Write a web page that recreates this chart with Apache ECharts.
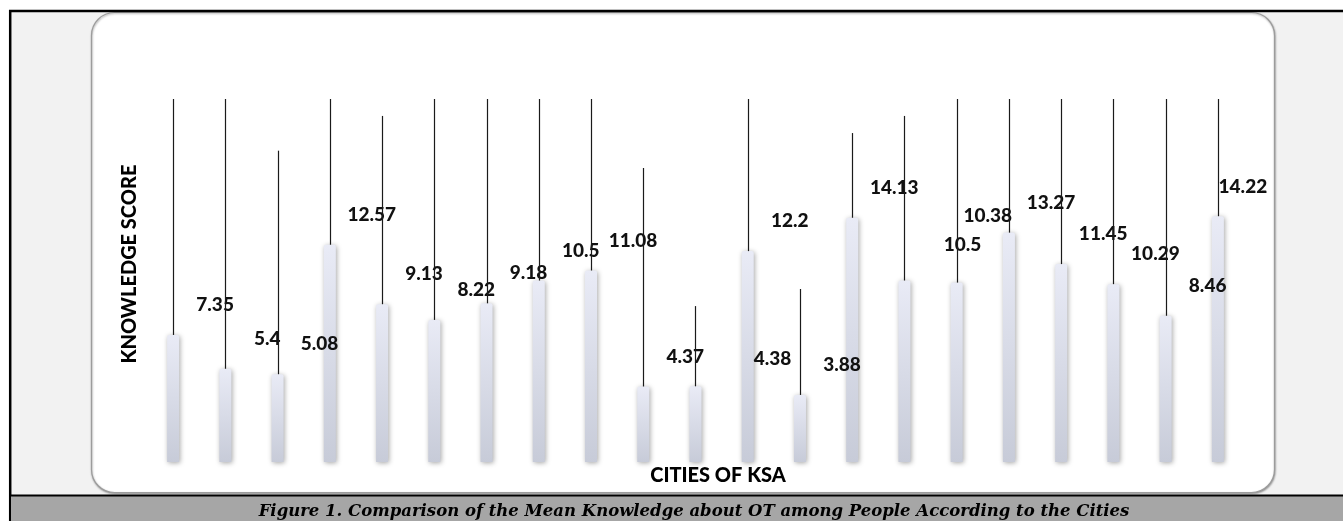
<!DOCTYPE html>
<html>
<head>
<meta charset="utf-8">
<script src="https://cdn.jsdelivr.net/npm/echarts@6/dist/echarts.min.js"></script>
<style>
  html, body { margin: 0; padding: 0; background: #ffffff; }
  #chart { width: 1343px; height: 521px; }
</style>
</head>
<body>
<div id="chart"></div>
<script>
// Cities (unlabelled on the category axis), mean knowledge score and SD (plus side only)
const cityIds = ['1', '2', '3', '4', '5', '6', '7', '8', '9', '10', '11',
                 '12', '13', '14', '15', '16', '17', '18', '19', '20', '21'];
const meanScores = [7.35, 5.4, 5.08, 12.57, 9.13, 8.22, 9.18, 10.5, 11.08, 4.37, 4.38,
                    12.2, 3.88, 14.13, 10.5, 10.38, 13.27, 11.45, 10.29, 8.46, 14.22];
const sdScores = [14.1, 15.9, 12.93, 9.2, 10.89, 13.4, 12.3, 11.2, 10.4, 12.64, 4.64,
                  9.6, 6.13, 4.9, 9.52, 11.1, 8.6, 10.2, 11.4, 13.2, 7.6];
const yMax = 21;

// Data-label placement relative to the top of each bar (pixels)
const labelNudge = { default: [42, -30], 10: [77, -27], 14: [58, -36], 15: [31, -67], 20: [25, -29] };

const chart = echarts.init(document.getElementById('chart'), null, { renderer: 'canvas' });

const errorData = meanScores.map((v, i) => [i, v, sdScores[i]]);

const option = {
  animation: false,
  backgroundColor: '#ffffff',
  grid: { left: 147, right: 99, top: 99, bottom: 59 },
  xAxis: {
    type: 'category',
    data: cityIds,
    axisLine: { show: false },
    axisTick: { show: false },
    axisLabel: { show: false },
    splitLine: { show: false }
  },
  yAxis: {
    type: 'value',
    min: 0,
    max: yMax,
    show: false,
    splitLine: { show: false }
  },
  graphic: [
    // page frame
    { type: 'rect', z: -20, shape: { x: 9, y: 10, width: 1334, height: 511 }, style: { fill: '#f2f2f2' } },
    { type: 'line', z: -5, shape: { x1: 9, y1: 11, x2: 1343, y2: 11 }, style: { stroke: '#000', lineWidth: 2.5 } },
    { type: 'line', z: -5, shape: { x1: 10.2, y1: 10, x2: 10.2, y2: 521 }, style: { stroke: '#000', lineWidth: 2.5 } },
    // rounded chart panel
    {
      type: 'rect', z: -10,
      shape: { x: 91.5, y: 12.5, width: 1183, height: 480, r: 23 },
      style: { fill: '#ffffff', stroke: '#9c9c9c', lineWidth: 1.2,
               shadowBlur: 2, shadowOffsetX: 0.5, shadowOffsetY: 1, shadowColor: 'rgba(0,0,0,0.35)' }
    },
    // caption band
    { type: 'rect', z: -4, shape: { x: 11, y: 495, width: 1332, height: 26 }, style: { fill: '#a6a6a6' } },
    { type: 'line', z: -3, shape: { x1: 9, y1: 495.5, x2: 1343, y2: 495.5 }, style: { stroke: '#000', lineWidth: 2 } },
    {
      type: 'text', z: 20, x: 694, y: 512,
      style: {
        text: 'Figure 1. Comparison of the Mean Knowledge about OT among People According to the Cities',
        font: 'italic bold 16.5px "DejaVu Serif"', fill: '#000', align: 'center', verticalAlign: 'middle'
      }
    },
    // axis titles
    {
      type: 'text', z: 20, x: 718, y: 476,
      style: { text: 'CITIES OF KSA', font: '900 20px Lato', fill: '#000', align: 'center', verticalAlign: 'middle' }
    },
    {
      type: 'text', z: 20, x: 130, y: 264, rotation: Math.PI / 2,
      style: { text: 'KNOWLEDGE SCORE', font: '900 20px Lato', fill: '#000', align: 'center', verticalAlign: 'middle' }
    }
  ],
  series: [
    {
      name: 'Mean knowledge',
      type: 'bar',
      data: meanScores,
      barWidth: 12,
      itemStyle: {
        color: new echarts.graphic.LinearGradient(0, 0, 0, 1, [
          { offset: 0, color: '#e9ebf6' },
          { offset: 1, color: '#c7cbd8' }
        ]),
        borderRadius: [2, 2, 0, 0],
        shadowBlur: 5,
        shadowOffsetX: 1,
        shadowOffsetY: 1,
        shadowColor: 'rgba(0,0,0,0.35)'
      },
      emphasis: { disabled: true }
    },
    {
      name: 'SD',
      type: 'custom',
      z: 5,
      data: errorData,
      encode: { x: 0, y: 1 },
      renderItem: function (params, api) {
        const i = api.value(0);
        const mean = api.value(1);
        const sd = api.value(2);
        const upper = Math.min(mean + sd, yMax);
        const base = api.coord([i, mean]);
        const tip = api.coord([i, upper]);
        const nudge = labelNudge[params.dataIndex] || labelNudge.default;
        return {
          type: 'group',
          children: [
            {
              type: 'text',
              style: {
                text: String(meanScores[params.dataIndex]),
                x: base[0] + nudge[0],
                y: base[1] + nudge[1],
                align: 'center',
                verticalAlign: 'middle',
                font: '900 19px Lato',
                fill: '#111'
              }
            },
            {
              type: 'line',
              shape: { x1: Math.round(base[0]) + 0.5, y1: base[1], x2: Math.round(base[0]) + 0.5, y2: tip[1] },
              style: { stroke: '#1a1a1a', lineWidth: 1.2 }
            }
          ]
        };
      }
    }
  ]
};

chart.setOption(option);
</script>
</body>
</html>
